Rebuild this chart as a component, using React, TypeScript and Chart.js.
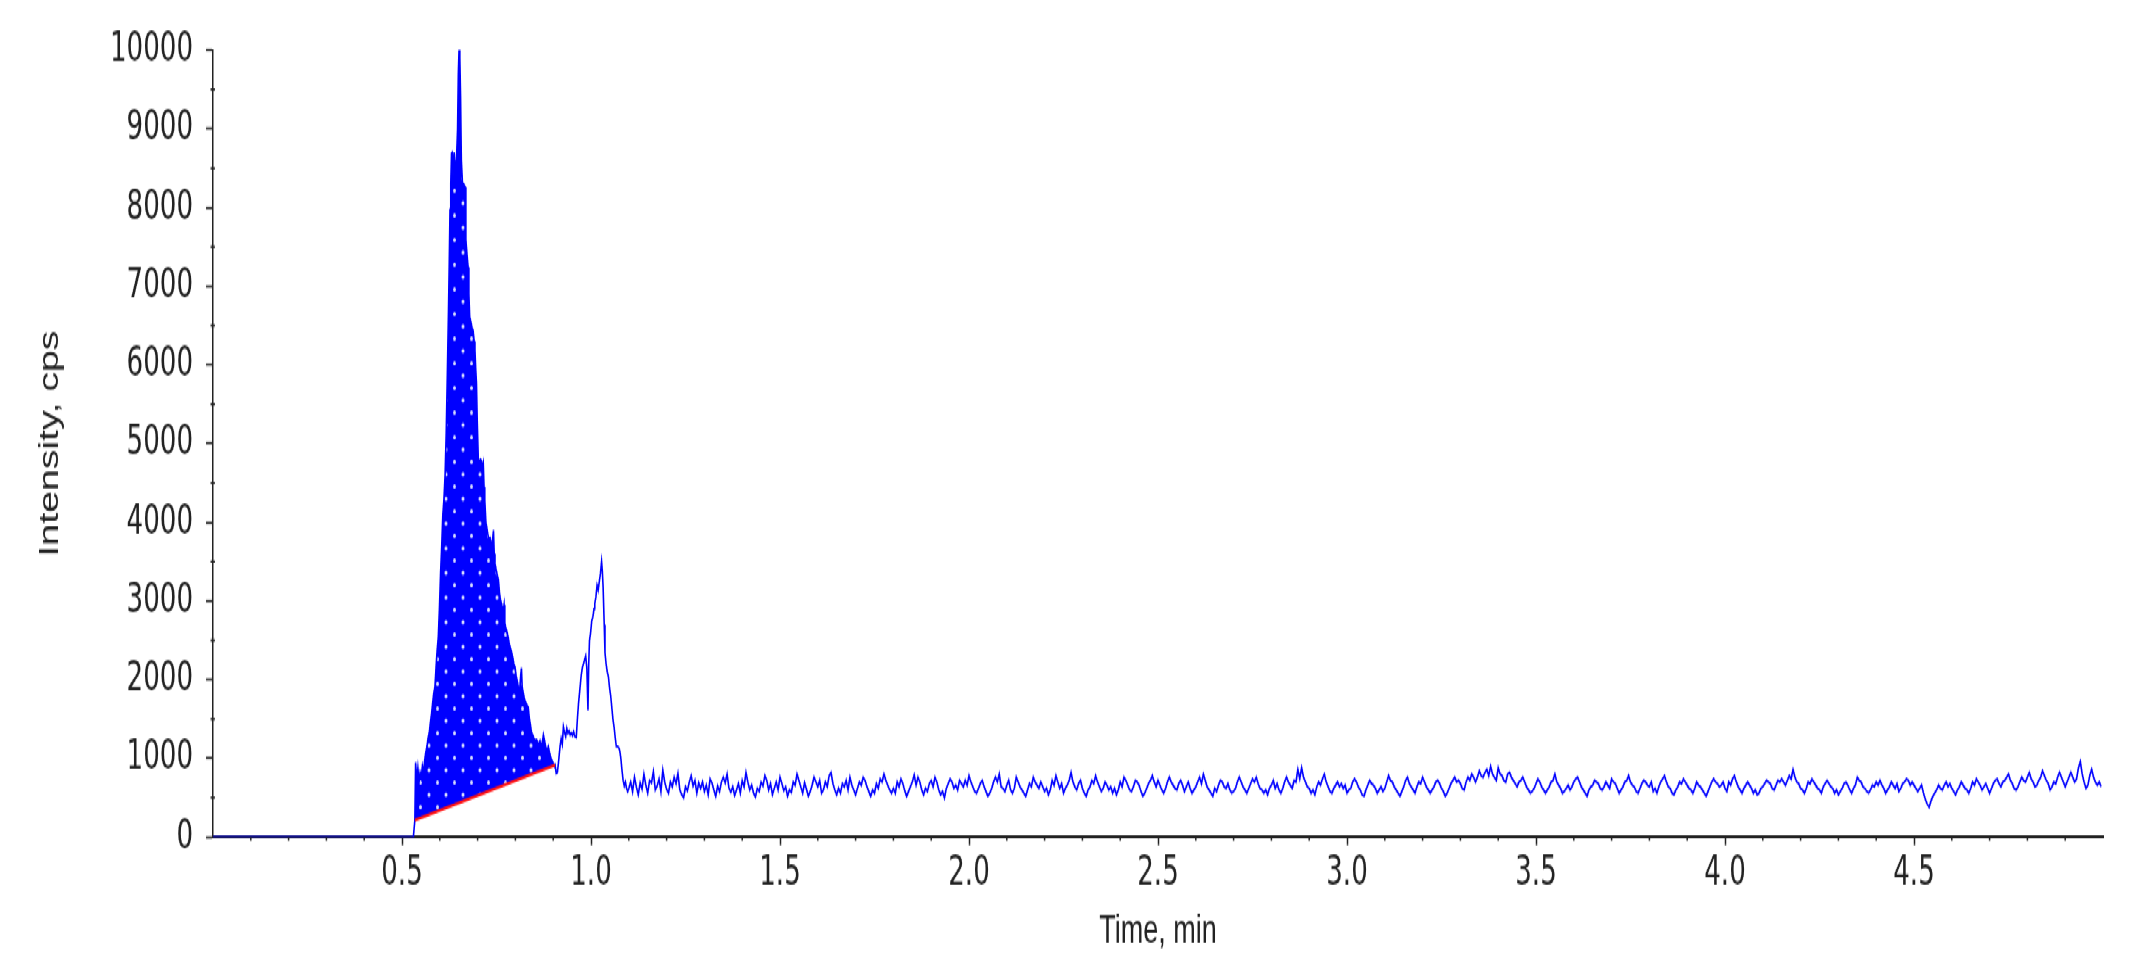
import { useEffect, useRef } from 'react';
import { Chart, registerables } from 'chart.js';

Chart.register(...registerables);

// ---------- data ----------
// [time (min), intensity (cps)] for the start of the run and the two peaks
const peakSamples: [number, number][] = [
  [0.0, 0], [0.53, 0], [0.534, 215], [0.536, 950], [0.539, 720], [0.542, 880], [0.545, 700], [0.548, 820],
  [0.551, 760], [0.554, 900], [0.557, 820], [0.56, 980], [0.563, 1080], [0.566, 1150], [0.569, 1260],
  [0.572, 1320], [0.575, 1450], [0.578, 1560], [0.581, 1700], [0.584, 1830], [0.587, 1900], [0.59, 2150],
  [0.593, 2380], [0.596, 2540], [0.599, 2900], [0.602, 3350], [0.605, 3690], [0.608, 4100], [0.611, 4300],
  [0.614, 4600], [0.617, 5150], [0.62, 5900], [0.623, 6700], [0.625, 7300], [0.627, 7970], [0.629, 8300],
  [0.631, 8690], [0.633, 8700], [0.635, 8400], [0.638, 8700], [0.641, 8450], [0.644, 8600], [0.647, 9000],
  [0.649, 9700], [0.651, 10020], [0.653, 9900], [0.655, 9400], [0.657, 8600], [0.66, 8310], [0.663, 8300],
  [0.667, 8260], [0.669, 7590], [0.672, 7400], [0.675, 7240], [0.677, 6900], [0.679, 6610], [0.682, 6550],
  [0.685, 6480], [0.688, 6440], [0.691, 6300], [0.693, 6190], [0.695, 5950], [0.697, 5770], [0.699, 5300],
  [0.702, 4790], [0.705, 4780], [0.708, 4800], [0.711, 4760], [0.713, 4700], [0.715, 4750], [0.717, 4450],
  [0.719, 4280], [0.722, 4000], [0.724, 3940], [0.727, 3850], [0.73, 3780], [0.733, 3800], [0.736, 3720],
  [0.739, 3750], [0.742, 3900], [0.744, 3600], [0.746, 3480], [0.749, 3400], [0.752, 3330], [0.755, 3270],
  [0.758, 3100], [0.761, 3000], [0.764, 2950], [0.767, 2850], [0.77, 2950], [0.772, 2720], [0.775, 2650],
  [0.778, 2600], [0.781, 2540], [0.784, 2450], [0.787, 2400], [0.79, 2350], [0.793, 2280], [0.796, 2200],
  [0.799, 2160], [0.802, 2050], [0.805, 1980], [0.808, 1900], [0.811, 1850], [0.814, 2050], [0.816, 2150],
  [0.818, 1900], [0.821, 1830], [0.824, 1750], [0.827, 1720], [0.83, 1680], [0.834, 1650], [0.837, 1500],
  [0.84, 1420], [0.843, 1320], [0.846, 1300], [0.849, 1250], [0.852, 1230], [0.856, 1240], [0.859, 1200],
  [0.862, 1180], [0.865, 1220], [0.868, 1150], [0.871, 1200], [0.874, 1300], [0.877, 1230], [0.88, 1150],
  [0.884, 1100], [0.887, 1150], [0.89, 1080], [0.893, 1020], [0.896, 980], [0.9, 940], [0.903, 900],
  [0.905, 915], [0.908, 810], [0.911, 820], [0.914, 950], [0.918, 1150], [0.921, 1250], [0.924, 1180],
  [0.927, 1400], [0.93, 1330], [0.933, 1280], [0.936, 1380], [0.939, 1320], [0.942, 1350], [0.945, 1300],
  [0.948, 1320], [0.951, 1290], [0.954, 1340], [0.957, 1280], [0.961, 1270], [0.964, 1500], [0.967, 1700],
  [0.971, 1900], [0.974, 2050], [0.977, 2150], [0.98, 2200], [0.983, 2250], [0.986, 2300], [0.989, 2150],
  [0.992, 1610], [0.994, 2200], [0.996, 2500], [0.999, 2600], [1.002, 2750], [1.005, 2800], [1.008, 2900],
  [1.01, 2970], [1.013, 3050], [1.016, 3200], [1.019, 3140], [1.022, 3250], [1.025, 3350], [1.028, 3500],
  [1.03, 3380], [1.032, 3180], [1.035, 2700], [1.037, 2340], [1.04, 2200], [1.043, 2100], [1.046, 2040],
  [1.049, 1900], [1.052, 1800], [1.055, 1650], [1.058, 1500], [1.061, 1400], [1.064, 1270], [1.067, 1150],
  [1.07, 1150], [1.073, 1140], [1.076, 1100], [1.079, 1000], [1.082, 850], [1.085, 720], [1.088, 650],
  [1.091, 700], [1.094, 620], [1.097, 580],
];

// background noise after the peaks, one reading every 0.005 min from 1.100 min (20 readings per row = 0.1 min)
const noiseStartTime = 1.1;
const noiseStep = 0.005;
const noiseIntensity: number[] = [
  620, 700, 580, 760, 640, 540, 690, 610, 800, 660, 560, 720, 690, 830, 600, 650, 740, 580, 850, 700,
  610, 560, 700, 640, 760, 680, 810, 600, 540, 500, 640, 590, 700, 780, 650, 720, 560, 690, 620, 700,
  580, 660, 540, 740, 690, 600, 520, 650, 580, 700, 760, 690, 800, 620, 570, 640, 530, 600, 680, 560,
  720, 640, 820, 700, 600, 660, 560, 510, 620, 580, 700, 650, 780, 720, 600, 680, 540, 620, 700, 600,
  760, 680, 590, 640, 520, 600, 570, 700, 660, 800, 720, 640, 560, 690, 610, 520, 580, 660, 760, 700,
  640, 720, 560, 600, 700, 640, 780, 820, 680, 600, 540, 620, 560, 680, 640, 720, 600, 760, 660, 600,
  540, 620, 700, 660, 760, 720, 640, 580, 520, 600, 560, 680, 620, 740, 700, 800, 720, 660, 600, 560,
  620, 560, 700, 640, 740, 680, 590, 520, 580, 640, 700, 790, 660, 760, 700, 600, 540, 620, 580, 680,
  720, 640, 760, 700, 600, 540, 580, 500, 620, 680, 740, 700, 620, 660, 600, 720, 680, 640, 720, 660,
  780, 700, 640, 580, 560, 620, 680, 720, 640, 580, 520, 560, 620, 700, 760, 700, 800, 640, 620, 580,
  660, 720, 600, 560, 620, 760, 700, 640, 600, 560, 520, 600, 680, 640, 760, 700, 660, 620, 700, 640,
  580, 620, 540, 600, 720, 660, 780, 700, 620, 680, 560, 620, 660, 720, 820, 700, 640, 600, 680, 720,
  620, 560, 520, 600, 640, 720, 680, 780, 700, 640, 580, 620, 700, 660, 600, 640, 560, 620, 540, 600,
  700, 640, 760, 720, 660, 600, 580, 640, 720, 700, 660, 580, 520, 560, 620, 680, 720, 780, 700, 640,
  720, 660, 600, 560, 620, 700, 760, 700, 660, 620, 600, 680, 720, 660, 580, 640, 700, 620, 560, 600,
  640, 700, 760, 680, 800, 720, 640, 600, 560, 520, 620, 580, 660, 720, 700, 640, 620, 680, 600, 560,
  580, 620, 700, 760, 700, 640, 600, 560, 620, 680, 740, 700, 760, 680, 620, 600, 560, 600, 540, 620,
  660, 720, 620, 680, 600, 560, 620, 700, 760, 700, 660, 620, 720, 700, 860, 740, 880, 760, 700, 640,
  620, 560, 600, 540, 640, 700, 660, 740, 800, 700, 640, 580, 560, 620, 660, 700, 640, 680, 620, 660,
  560, 600, 620, 700, 740, 700, 640, 600, 540, 520, 600, 660, 720, 680, 660, 620, 560, 600, 640, 580,
  620, 700, 780, 720, 700, 640, 600, 560, 520, 580, 640, 720, 760, 680, 640, 600, 560, 640, 700, 680,
  760, 700, 640, 600, 560, 600, 640, 700, 720, 680, 620, 580, 520, 560, 620, 680, 720, 760, 700, 720,
  680, 620, 600, 700, 760, 720, 800, 760, 700, 760, 840, 780, 760, 820, 860, 780, 900, 800, 760, 720,
  880, 800, 780, 720, 700, 800, 820, 760, 720, 680, 640, 700, 720, 760, 700, 640, 600, 560, 580, 620,
  680, 740, 700, 640, 600, 560, 600, 640, 700, 720, 800, 700, 660, 620, 560, 580, 620, 660, 600, 640,
  700, 740, 760, 700, 640, 600, 560, 520, 600, 640, 660, 720, 700, 680, 620, 600, 640, 700, 660, 620,
  740, 700, 680, 620, 560, 600, 640, 700, 720, 780, 700, 660, 640, 580, 560, 620, 680, 720, 700, 660,
  640, 700, 580, 620, 560, 640, 700, 740, 780, 700, 640, 620, 560, 540, 600, 640, 700, 680, 740, 700,
  660, 620, 600, 560, 620, 700, 660, 640, 600, 560, 520, 580, 640, 700, 740, 700, 680, 640, 660, 700,
  620, 580, 700, 660, 740, 780, 700, 640, 600, 560, 620, 660, 700, 660, 620, 560, 600, 540, 560, 620,
  640, 680, 720, 700, 680, 620, 600, 660, 720, 700, 740, 700, 660, 720, 780, 740, 860, 760, 700, 680,
  620, 600, 560, 620, 700, 680, 740, 700, 660, 620, 600, 560, 640, 680, 720, 680, 640, 620, 560, 600,
  540, 580, 620, 680, 700, 660, 600, 560, 620, 660, 760, 720, 700, 640, 620, 580, 560, 600, 660, 640,
  700, 660, 720, 660, 620, 560, 600, 640, 700, 660, 620, 680, 580, 620, 680, 700, 740, 720, 660, 700,
  660, 620, 580, 620, 660, 560, 480, 420, 380, 460, 520, 560, 600, 660, 620, 600, 660, 700, 640, 680,
  620, 580, 540, 600, 640, 700, 660, 620, 600, 560, 620, 700, 660, 740, 700, 660, 600, 640, 680, 620,
  560, 620, 680, 720, 740, 680, 640, 700, 720, 760, 800, 720, 680, 620, 600, 640, 700, 760, 720, 700,
  760, 820, 740, 700, 640, 660, 720, 760, 840, 780, 720, 680, 600, 640, 700, 680, 760, 820, 760, 700,
  640, 700, 760, 820, 760, 700, 740, 880, 960, 800, 700, 620, 660, 780, 860, 760, 700, 660, 700, 640,
];

// integrated peak: start / end of the shaded area and its baseline
const baselineTimes = [0.534, 0.905];
const baselineIntensity = [215, 915];

// axis ticks
const xTickValues = [0.5, 1.0, 1.5, 2.0, 2.5, 3.0, 3.5, 4.0, 4.5];
const yTickValues = [0, 1000, 2000, 3000, 4000, 5000, 6000, 7000, 8000, 9000, 10000];
const xMinorStep = 0.1;
const yMinorStep = 500;

// ---------- layout ----------
const W = 2129;
const H = 675;
const STRETCH = 979 / H;
const AREA_LEFT = 213;
const AREA_RIGHT = 2103;
const AREA_TOP = 34.5;
const AREA_BOTTOM = 577.2;

const TICK_FONT = "'Liberation Sans Narrow', 'Arial Narrow', 'DejaVu Sans Condensed', sans-serif";
const TITLE_FONT = "'Liberation Sans', Arial, Helvetica, sans-serif";
const INK = '#222222';

const minorTicksPlugin = {
  id: 'minorTicks',
  afterDraw(chart: any) {
    const { ctx } = chart;
    const x = chart.scales.x;
    const y = chart.scales.y;
    ctx.save();
    ctx.strokeStyle = INK;
    ctx.lineWidth = 1.5;
    ctx.beginPath();
    for (let t = xMinorStep; t < x.max - 1e-9; t += xMinorStep) {
      const r = Math.round(t * 10) / 10;
      if (Math.abs(r * 2 - Math.round(r * 2)) < 1e-6) continue;
      const px = x.getPixelForValue(r);
      ctx.moveTo(px, y.bottom);
      ctx.lineTo(px, y.bottom + 2.5);
    }
    for (let v = yMinorStep; v < y.max; v += 2 * yMinorStep) {
      const py = y.getPixelForValue(v);
      ctx.moveTo(x.left - 2.5, py);
      ctx.lineTo(x.left + 2, py);
    }
    ctx.stroke();
    ctx.restore();
  },
};

export default function App() {
  const canvasRef = useRef<HTMLCanvasElement | null>(null);

  useEffect(() => {
    const canvas = canvasRef.current;
    if (!canvas) return;

    const trace = [
      ...peakSamples.map(([t, v]) => ({ x: t, y: v })),
      ...noiseIntensity.map((v, i) => ({ x: Math.round((noiseStartTime + i * noiseStep) * 1000) / 1000, y: v })),
    ];
    const areaPoints = trace.filter((p) => p.x >= baselineTimes[0] && p.x <= baselineTimes[1]);
    const baseline = baselineTimes.map((t, i) => ({ x: t, y: baselineIntensity[i] }));

    // blue fill with a staggered grid of small light dots
    const tile = document.createElement('canvas');
    tile.width = 17;
    tile.height = 17;
    const tctx = tile.getContext('2d')!;
    tctx.fillStyle = '#0000ff';
    tctx.fillRect(0, 0, 17, 17);
    tctx.fillStyle = 'rgba(215,220,255,1)';
    tctx.beginPath();
    tctx.arc(4, 4, 1.5, 0, Math.PI * 2);
    tctx.closePath();
    tctx.moveTo(14, 12.5);
    tctx.arc(12.5, 12.5, 1.5, 0, Math.PI * 2);
    tctx.fill();
    const pattern = canvas.getContext('2d')!.createPattern(tile, 'repeat');

    const chart = new Chart(canvas, {
      type: 'line',
      data: {
        datasets: [
          {
            label: 'baseline',
            data: baseline,
            borderColor: '#ff1010',
            borderWidth: 2,
            pointRadius: 0,
            fill: false,
          },
          {
            label: 'XIC',
            data: trace,
            borderColor: '#0000ff',
            borderWidth: 1.6,
            pointRadius: 0,
            fill: false,
          },
          {
            label: 'area',
            data: areaPoints,
            borderColor: 'rgba(0,0,0,0)',
            borderWidth: 0,
            pointRadius: 0,
            backgroundColor: pattern as any,
            fill: { target: 0 },
          },
        ],
      },
      options: {
        responsive: false,
        animation: false,
        events: [],
        layout: { padding: { left: 0, right: W - AREA_RIGHT, top: AREA_TOP, bottom: 0 } },
        elements: { line: { tension: 0 }, point: { radius: 0 } },
        plugins: {
          legend: { display: false },
          tooltip: { enabled: false },
          filler: { drawTime: 'beforeDatasetsDraw' },
        },
        scales: {
          x: {
            type: 'linear',
            min: 0,
            max: 5,
            afterBuildTicks: (s: any) => {
              s.ticks = xTickValues.map((v) => ({ value: v }));
            },
            afterFit: (s: any) => {
              s.height = H - AREA_BOTTOM;
            },
            border: { display: true, color: INK, width: 2 },
            grid: { drawOnChartArea: false, drawTicks: true, tickLength: 5.5, tickColor: INK, tickWidth: 1.5 },
            ticks: {
              autoSkip: false,
              maxRotation: 0,
              padding: 2,
              color: INK,
              font: { family: TICK_FONT, size: 29 },
              callback: (v: any) => Number(v).toFixed(1),
            },
            title: {
              display: true,
              text: 'Time, min',
              color: INK,
              font: { family: TITLE_FONT, size: 27 },
              padding: { top: 0, bottom: 16 },
            },
          },
          y: {
            type: 'linear',
            min: 0,
            max: 10000,
            afterBuildTicks: (s: any) => {
              s.ticks = yTickValues.map((v) => ({ value: v }));
            },
            afterFit: (s: any) => {
              s.width = AREA_LEFT;
            },
            border: { display: true, color: INK, width: 1.5 },
            grid: { drawOnChartArea: false, drawTicks: true, tickLength: 7, tickColor: INK, tickWidth: 1.5 },
            ticks: {
              autoSkip: false,
              padding: 13,
              color: INK,
              font: { family: TICK_FONT, size: 29 },
              callback: (v: any) => String(v),
            },
            title: {
              display: true,
              text: 'Intensity, cps',
              color: INK,
              font: { family: TITLE_FONT, size: 27 },
              padding: { top: 34, bottom: 0 },
            },
          },
        },
      },
      plugins: [minorTicksPlugin],
    } as any);

    return () => chart.destroy();
  }, []);

  return (
    <div
      style={{
        position: 'fixed',
        left: 0,
        top: 0,
        width: W,
        height: H,
        transform: `scaleY(${STRETCH})`,
        transformOrigin: '0 0',
        background: '#ffffff',
      }}
    >
      <canvas ref={canvasRef} width={W} height={H} style={{ display: 'block', width: W, height: H }} />
    </div>
  );
}
